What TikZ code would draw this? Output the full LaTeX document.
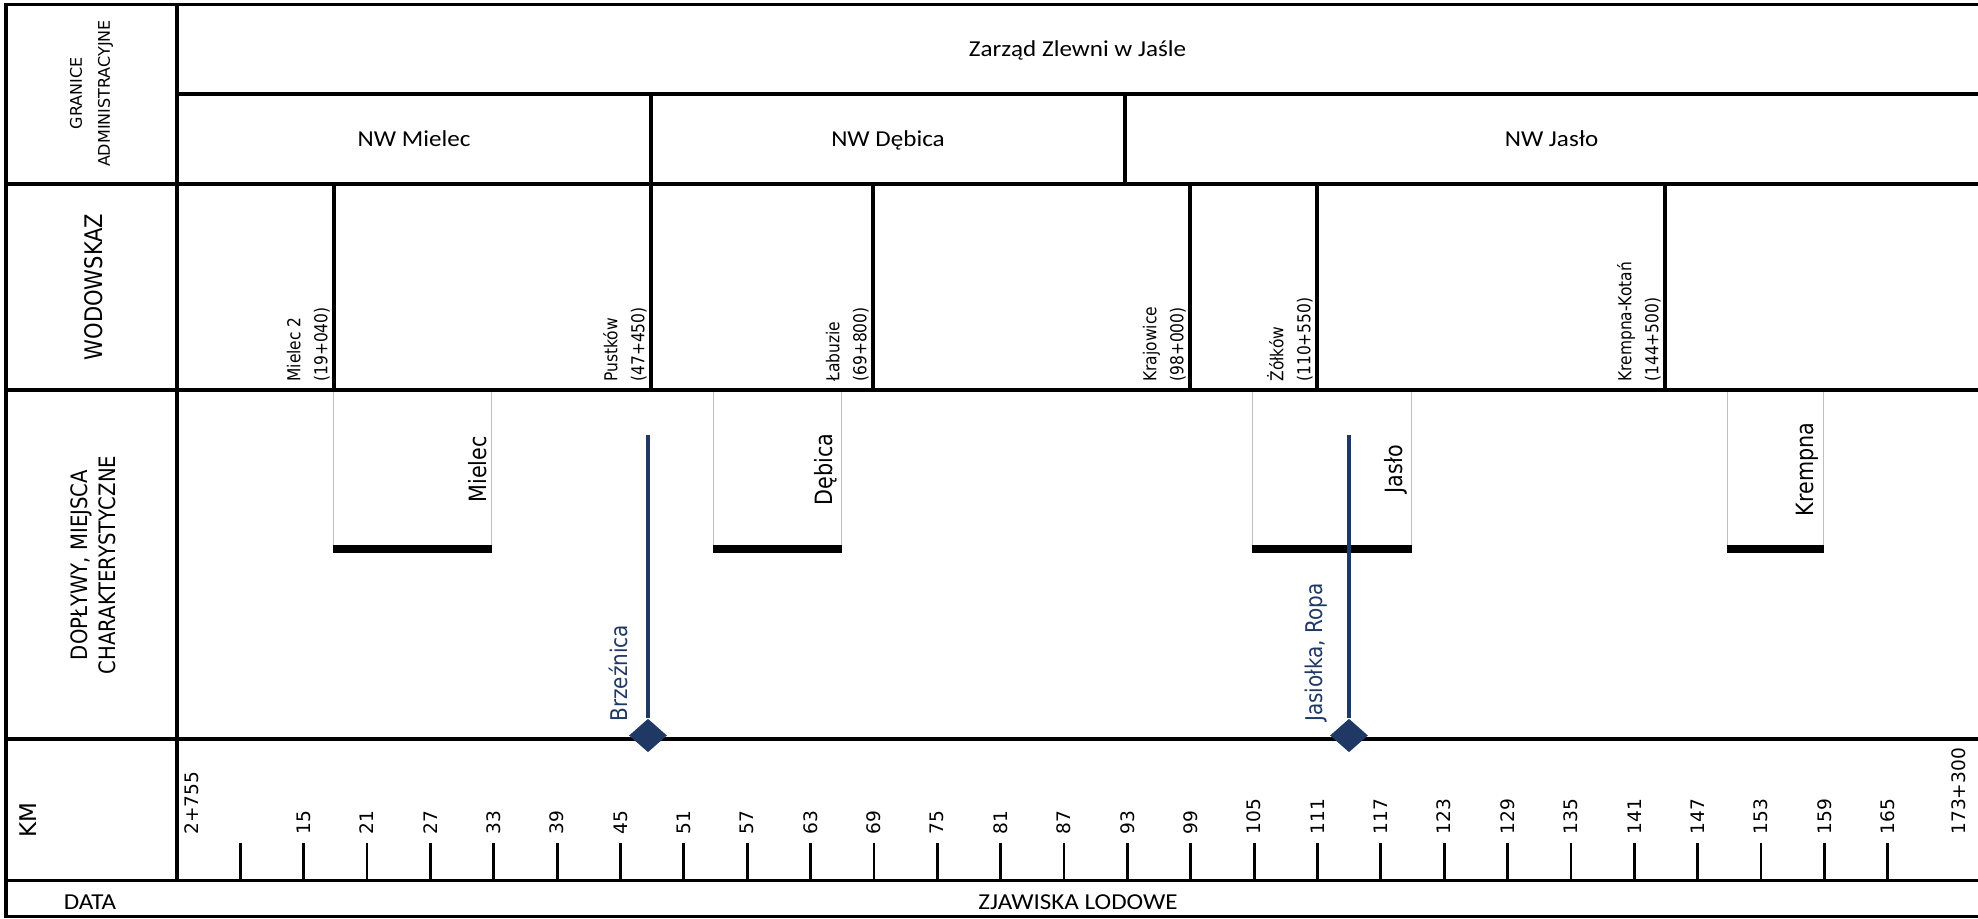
\documentclass[tikz,border=0pt]{standalone}
\usepackage{fontspec}
\setmainfont{DejaVu Sans}
\newfontfamily\calib[FakeStretch=1.1]{Carlito}
\newfontfamily\rotfont[FakeStretch=0.87]{DejaVu Sans}
\usepackage{tikz}
\usetikzlibrary{shapes.geometric}
\definecolor{rivblue}{HTML}{1F3864}
\definecolor{townedge}{HTML}{BFBFBF}

\begin{document}
\begin{tikzpicture}[
  x=0.5pt, y=-0.5pt,
  rule/.style    = {line width=1.6pt, draw=black, line cap=rect},
  tick/.style    = {line width=1.4pt, draw=black},
  head/.style    = {font=\calib\fontsize{11.4}{13}\selectfont, inner sep=0pt,
                    anchor=base},
  side/.style    = {rotate=90, align=center, inner sep=0pt},
  gauge/.style   = {rotate=90, anchor=south west, align=left, inner sep=2pt,
                    font=\rotfont\fontsize{8.9}{13.5}\selectfont},
  townbox/.style = {draw=townedge, fill=white, line width=0.6pt,
                    anchor=north west, minimum height=78.8pt, inner sep=0pt},
  townlbl/.style = {rotate=90, anchor=south, inner sep=2.5pt,
                    font=\rotfont\fontsize{11.9}{13}\selectfont},
  bar/.style     = {line width=4pt, draw=black},
  trib/.style    = {line width=2pt, draw=rivblue},
  mouth/.style   = {diamond, fill=rivblue, inner sep=0pt,
                    minimum width=19pt, minimum height=16.8pt},
  triblbl/.style = {rotate=90, anchor=south west, inner sep=0pt, text=rivblue,
                    font=\rotfont\fontsize{11.5}{13}\selectfont},
  kmlbl/.style   = {rotate=90, anchor=west, inner sep=0pt,
                    font=\fontsize{9.3}{11}\selectfont},
]
\useasboundingbox (0,0) rectangle (1978,919);

\node[townbox, minimum width=79pt]   (tMielec)  at (333,390)  {};
\node[townbox, minimum width=64pt]   (tDebica)  at (713,390)  {};
\node[townbox, minimum width=79.5pt] (tJaslo)   at (1252,390) {};
\node[townbox, minimum width=48pt]   (tKrempna) at (1727,390) {};
\foreach \t in {tMielec,tDebica,tJaslo,tKrempna}
  \draw[bar] (\t.south west) -- (\t.south east);

\foreach \y in {4.7,184,390,739,880.5,916.5}
  \draw[rule] (6,\y) -- (1978,\y);
\draw[rule] (177,94) -- (1978,94);
\draw[rule] (6,4.7) -- (6,916.5);
\draw[rule] (177,4.7) -- (177,880.5);
\foreach \x in {651,1125}
  \draw[rule] (\x,94) -- (\x,184);
\foreach \x in {334,651,873,1190,1317,1665}
  \draw[rule] (\x,184) -- (\x,390);

\node[head] (zarzad)   at (1077.5,57) {Zarząd Zlewni w Jaśle};
\node[head] (nwMielec) at (414,147)   {NW Mielec};
\node[head] (nwDebica) at (888,147)   {NW Dębica};
\node[head] (nwJaslo)  at (1551.5,147) {NW Jasło};

\node[side, font=\fontsize{8}{14}\selectfont] (granice) at (91.5,93.5)
    {GRANICE\\ADMINISTRACYJNE};
\node[side, font=\rotfont\fontsize{12.1}{13}\selectfont] (wodowskaz) at (94,287)
    {WODOWSKAZ};
\node[side, font=\rotfont\fontsize{11.3}{14}\selectfont] (doplywy) at (93.5,565)
    {DOPŁYWY, MIEJSCA\\CHARAKTERYSTYCZNE};
\node[side, font=\fontsize{11.5}{13}\selectfont] (kmHead) at (28,820.5) {KM};
\node[head] (data)     at (90,909)   {DATA};
\node[head] (zjawiska) at (1078,909) {ZJAWISKA LODOWE};

\node[gauge] (gMielec)    at (334,386)  {Mielec 2\\(19+040)};
\node[gauge] (gPustkow)   at (651,386)  {Pustków\\(47+450)};
\node[gauge] (gLabuzie)   at (873,386)  {Łabuzie\\(69+800)};
\node[gauge] (gKrajowice) at (1190,386) {Krajowice\\(98+000)};
\node[gauge] (gZolkow)    at (1317,386) {Żółków\\(110+550)};
\node[gauge] (gKrempna)   at (1665,386) {Krempna-Kotań\\(144+500)};

\node[townlbl] (lMielec)  at (tMielec.east)  {Mielec};
\node[townlbl] (lDebica)  at (tDebica.east)  {Dębica};
\node[townlbl] (lJaslo)   at (tJaslo.east)   {Jasło};
\node[townlbl] (lKrempna) at (tKrempna.east) {Krempna};

\coordinate (brzSrc) at (648,435);
\node[mouth] (brzMouth) at (648,735.5) {};
\draw[trib] (brzSrc) -- (brzMouth);
\node[triblbl] (brzLbl) at (628,722) {Brzeźnica};
\coordinate (jasSrc) at (1349,435);
\node[mouth] (jasMouth) at (1349,735.5) {};
\draw[trib] (jasSrc) -- (jasMouth);
\node[triblbl] (jasLbl) at (1328,722) {Jasiołka, Ropa};

\foreach \k in {9,15,...,165}
  \draw[tick] ({177+(\k-3)*10.56},843) -- ({177+(\k-3)*10.56},880.5);
\foreach \k in {15,21,...,165}
  \node[kmlbl] (km\k) at ({177+(\k-3)*10.56},835) {\k};
\node[kmlbl] (kmStart) at (192,835)  {2+755};
\node[kmlbl] (kmEnd)   at (1959,835) {173+300};
\end{tikzpicture}
\end{document}
